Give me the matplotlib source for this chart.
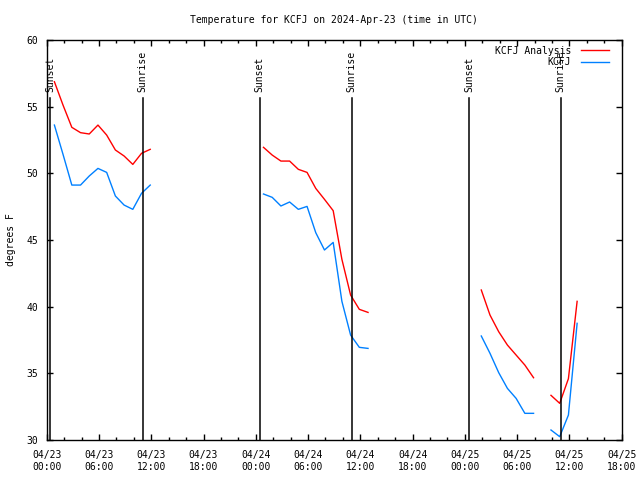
import matplotlib
matplotlib.use("Agg")
import matplotlib.pyplot as plt
import matplotlib.dates as mdates
import numpy as np
import pandas as pd

plt.rcParams["font.family"] = ["DejaVu Sans Mono"]
plt.rcParams["font.size"] = 7

BASE = pd.Timestamp("2024-04-23 00:00")

# observation hours (UTC, offset from 04/23 00:00), all taken at :53
obs_hours = [0, 1, 2, 3, 4, 5, 6, 7, 8, 9, 10, 11,
             24, 25, 26, 27, 28, 29, 30, 31, 32, 33, 34, 35, 36,
             49, 50, 51, 52, 53, 54, 55,
             57, 58, 59, 60]

analysis_temp = [56.87, 55.1, 53.45, 53.05, 52.95, 53.62, 52.87, 51.75, 51.3, 50.67, 51.5, 51.8,
                 51.95, 51.37, 50.92, 50.92, 50.3, 50.07, 48.87, 48.05, 47.2, 43.55, 40.87, 39.8, 39.57,
                 41.25, 39.37, 38.12, 37.12, 36.37, 35.62, 34.67,
                 33.35, 32.75, 34.6, 40.4]

station_temp = [53.62, 51.4, 49.12, 49.12, 49.8, 50.37, 50.07, 48.3, 47.62, 47.3, 48.5, 49.12,
                48.45, 48.2, 47.55, 47.85, 47.3, 47.52, 45.55, 44.25, 44.82, 40.4, 37.87, 36.95, 36.87,
                37.8, 36.5, 35.05, 33.87, 33.12, 32.0, 32.0,
                30.75, 30.25, 31.87, 38.75]

# sun events (hours from 04/23 00:00 UTC)
sun_hours = [0.42, 11.0, 24.44, 35.0, 48.5, 59.0]
sun_labels = ["Sunset", "Sunrise", "Sunset", "Sunrise", "Sunset", "Sunrise"]

RED = "#ff0000"
BLUE = "#0080ff"


def with_gaps(hours, vals):
    # break the line where an hour is missing
    t, v = [], []
    for i, (h, y) in enumerate(zip(hours, vals)):
        if i > 0 and h - hours[i - 1] > 1:
            t.append(BASE + pd.Timedelta(hours=h - 0.5))
            v.append(np.nan)
        t.append(BASE + pd.Timedelta(hours=h, minutes=53))
        v.append(y)
    return t, v


fig = plt.figure(figsize=(6.4, 4.8), dpi=100)
ax = fig.add_axes([46.7 / 640, 40 / 480, (621.7 - 46.7) / 640, 400 / 480])

t_a, v_a = with_gaps(obs_hours, analysis_temp)
t_s, v_s = with_gaps(obs_hours, station_temp)
ax.plot(t_a, v_a, color=RED, lw=1.0, label="KCFJ Analysis")
ax.plot(t_s, v_s, color=BLUE, lw=1.0, label="KCFJ")

for h, lab in zip(sun_hours, sun_labels):
    ts = BASE + pd.Timedelta(hours=h)
    ax.plot([ts, ts], [30, 55.65], color="black", lw=1.1)
    ax.text(ts, 56.1, lab, rotation=90, ha="center", va="bottom")

ax.set_xlim(BASE, BASE + pd.Timedelta(hours=66))
ax.set_ylim(30, 60)
ax.set_yticks(np.arange(30, 61, 5))
ax.xaxis.set_major_locator(mdates.HourLocator(byhour=[0, 6, 12, 18]))
ax.xaxis.set_minor_locator(mdates.HourLocator(byhour=range(0, 24, 2)))
ax.xaxis.set_major_formatter(mdates.DateFormatter("%m/%d\n%H:%M"))
ax.tick_params(which="both", direction="in", top=True, right=True, width=1.0)
ax.tick_params(which="major", length=4, labelsize=7)
ax.tick_params(axis="x", which="major", pad=7)
ax.tick_params(axis="y", which="major", pad=6)
ax.tick_params(which="minor", length=2.5)
for lbl in ax.get_xticklabels():
    lbl.set_linespacing(1.3)
for sp in ax.spines.values():
    sp.set_linewidth(1.0)

ax.text(-0.0625, 0.5, "degrees F", rotation=90, ha="center", va="center",
        transform=ax.transAxes)

ax.legend(loc="upper right", bbox_to_anchor=(0.99, 1.003), frameon=False,
          markerfirst=False, handlelength=2.9, handletextpad=1.0,
          labelspacing=0.15, borderpad=0.2, fontsize=7)

fig.text((46.7 + 621.7) / 2 / 640, 1 - 20 / 480,
         "Temperature for KCFJ on 2024-Apr-23 (time in UTC)",
         ha="center", va="center", fontsize=7)

fig.savefig("out.png", dpi=100)
